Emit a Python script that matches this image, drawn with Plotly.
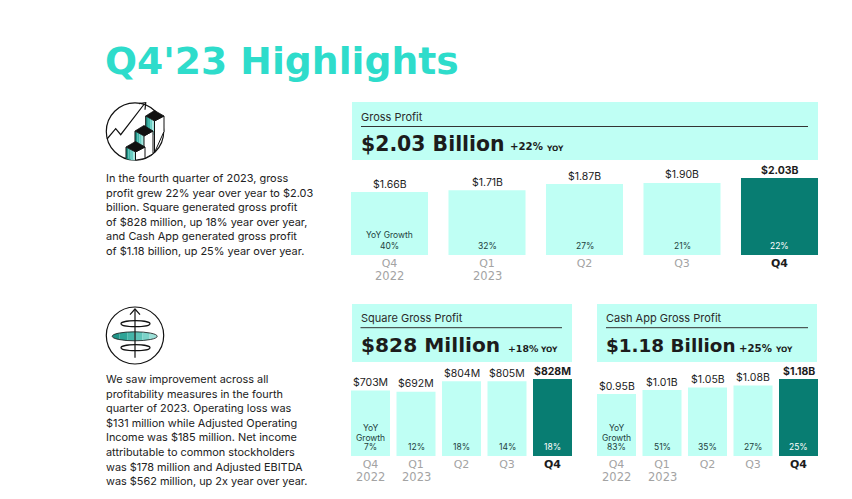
import math
import plotly.graph_objects as go

W, H = 852, 499
BODY = "Inter"
WIDE = "DejaVu Sans"
MINT = "#BFFFF4"
TEAL = "#087D72"
DARK = "#1C1C1C"
GREY = "#A3A3A3"

categories = ["Q4 2022", "Q1 2023", "Q2 2023", "Q3 2023", "Q4 2023"]
tick_labels = ["Q4", "Q1", "Q2", "Q3", "<b><span style='color:#1C1C1C'>Q4</span></b>"]
year_labels = ["2022", "2023", "", "", ""]

gross_profit = [1.66, 1.71, 1.87, 1.90, 2.03]
gross_labels = ["$1.66B", "$1.71B", "$1.87B", "$1.90B", "<b>$2.03B</b>"]
gross_growth = ["YoY Growth<br>40%", "32%", "27%", "21%", "22%"]

square_profit = [703, 692, 804, 805, 828]
square_labels = ["$703M", "$692M", "$804M", "$805M", "<b>$828M</b>"]
square_growth = ["YoY<br>Growth<br>7%", "12%", "18%", "14%", "18%"]

cash_profit = [0.95, 1.01, 1.05, 1.08, 1.18]
cash_labels = ["$0.95B", "$1.01B", "$1.05B", "$1.08B", "<b>$1.18B</b>"]
cash_growth = ["YoY<br>Growth<br>83%", "51%", "35%", "27%", "25%"]

para_one = ["In the fourth quarter of 2023, gross",
            "profit grew 22% year over year to $2.03",
            "billion. Square generated gross profit",
            "of $828 million, up 18% year over year,",
            "and Cash App generated gross profit",
            "of $1.18 billion, up 25% year over year."]
para_two = ["We saw improvement across all",
            "profitability measures in the fourth",
            "quarter of 2023. Operating loss was",
            "$131 million while Adjusted Operating",
            "Income was $185 million. Net income",
            "attributable to common stockholders",
            "was $178 million and Adjusted EBITDA",
            "was $562 million, up 2x year over year."]


def fx(x):
    return x / W


def fy(y):
    return 1 - y / H


fig = go.Figure()
shapes, notes = [], []


def text(x, y, s, size, color=DARK, family=BODY, anchor="left"):
    notes.append(dict(xref="paper", yref="paper", x=fx(x), y=fy(y), text=s, showarrow=False,
                      xanchor=anchor, yanchor="middle", align=anchor,
                      font=dict(size=size, color=color, family=family),
                      borderpad=0, borderwidth=0))


def rect(x0, y0, x1, y1, fill):
    shapes.append(dict(type="rect", xref="paper", yref="paper", x0=fx(x0), x1=fx(x1),
                       y0=fy(y1), y1=fy(y0), fillcolor=fill, line_width=0, layer="below"))


def path(points, fill=None, stroke=None, width=1.2, close=False):
    d = "M" + " L".join(f"{fx(a):.5f} {fy(b):.5f}" for a, b in points) + (" Z" if close else "")
    shapes.append(dict(type="path", xref="paper", yref="paper", path=d,
                       fillcolor=fill or "rgba(0,0,0,0)",
                       line=dict(color=stroke or "rgba(0,0,0,0)", width=width if stroke else 0)))


def ellipse(cx, cy, rx, ry, fill=None, stroke=None, width=1.2):
    shapes.append(dict(type="circle", xref="paper", yref="paper", x0=fx(cx - rx), x1=fx(cx + rx),
                       y0=fy(cy + ry), y1=fy(cy - ry), fillcolor=fill or "rgba(0,0,0,0)",
                       line=dict(color=stroke or "rgba(0,0,0,0)", width=width if stroke else 0)))


def chart(idx, values, labels, growth, xdom, top, base, gap, ymax, inner_lh):
    ax = "" if idx == 1 else str(idx)
    colors = [MINT] * 4 + [TEAL]
    fig.add_trace(go.Bar(
        x=categories, y=values, width=1 - gap, cliponaxis=False,
        marker=dict(color=colors, line_width=0),
        xaxis="x" + ax, yaxis="y" + ax, showlegend=False, hoverinfo="skip"))
    fig.update_layout({
        "xaxis" + ax: dict(domain=[fx(xdom[0]), fx(xdom[1])], type="category", anchor="y" + ax,
                           categoryorder="array", categoryarray=categories,
                           tickvals=categories, ticktext=tick_labels, showgrid=False, zeroline=False,
                           showline=False, ticks="", ticklen=0,
                           tickfont=dict(size=11, color=GREY, family=WIDE)),
        "yaxis" + ax: dict(domain=[fy(base), fy(top)], range=[0, ymax], visible=False, anchor="x" + ax),
    })
    for i, (c, v, lab, g, yr) in enumerate(zip(categories, values, labels, growth, year_labels)):
        notes.append(dict(xref="x" + ax, yref="y" + ax, x=c, y=v, text=lab, showarrow=False,
                          yanchor="middle", yshift=8,
                          font=dict(size=10.5, color=DARK, family=BODY)))
        lines = g.split("<br>")
        for j, line in enumerate(reversed(lines)):
            notes.append(dict(xref="x" + ax, yref="y" + ax, x=c, y=0, text=line, showarrow=False,
                              yanchor="middle", yshift=9 + j * inner_lh,
                              font=dict(size=8.5, color="white" if i == 4 else "#223E3C", family=BODY)))
        if yr:
            notes.append(dict(xref="x" + ax, yref="y" + ax, x=c, y=0, text=yr, showarrow=False,
                              yanchor="middle", yshift=-20.5,
                              font=dict(size=11.5, color=GREY, family=WIDE)))


chart(1, gross_profit, gross_labels, gross_growth, (340.75, 828.25), 178, 255, 0.21, 2.03, 11)
chart(2, square_profit, square_labels, square_growth, (347.75, 575.25), 379, 456, 0.143, 828, 9.5)
chart(3, cash_profit, cash_labels, cash_growth, (593.75, 821.25), 379, 456, 0.143, 1.18, 9.5)

# Title
text(105, 61.5, "<b>Q4'23 Highlights</b>", 37.7, "#2EDCCB", WIDE)

# Paragraphs
for i, line in enumerate(para_one):
    text(105.5, 178 + i * 14.6, line, 10.95, "#222222")
for i, line in enumerate(para_two):
    text(105.5, 379 + i * 14.6, line, 10.9, "#222222")

# Panels
for (x0, x1, y0, y1, lx, ly, label, head, hsize, hy, pct, psize, px, yoy, yx, dy, dx1) in [
    (352, 818, 102, 160, 361, 117, "Gross Profit", "$2.03 Billion", 20.4, 144, "+22%", 10.2, 510, "YOY", 546, 126.5, 808),
    (352, 572, 304, 362, 360.5, 318, "Square Gross Profit", "$828 Million", 20.2, 345, "+18%", 9.4, 508, "YOY", 540, 327.7, 562),
    (597, 817, 304, 362, 606, 318, "Cash App Gross Profit", "$1.18 Billion", 18.4, 345, "+25%", 10.2, 739, "YOY", 775, 327.7, 808),
]:
    rect(x0, y0, x1, y1, MINT)
    path([(lx, dy), (dx1, dy)], stroke="#333333", width=1)
    text(lx, ly, label, 11, "#2B2B2B")
    text(lx, hy, f"<b>{head}</b>", hsize, DARK, WIDE)
    text(px, hy + 3, f"<b>{pct}</b>", psize, DARK, WIDE)
    text(yx, hy + 4, f"<b>{yoy}</b>", 7.4, DARK, WIDE)

# Icon one: rising stairs
ICX, ICY, IR = 135, 131.5, 28.7
ellipse(ICX, ICY, IR, IR, fill="white", stroke="#111111")
path([(107, 139), (115.7, 128.7), (120.7, 134.7), (144.3, 104)], stroke="#111111")
path([(139, 103.7), (145.7, 102.7), (145, 109.7)], stroke="#111111")


def rim(x):
    return ICY + math.sqrt(max(IR * IR - (x - ICX) ** 2, 0))


FACE_SHADES = ["#1F9387", "#3FB5A9", "#6ACFC4", "#A2E6DE"]
for (lx, ty, cx, rx, lb) in [(145.7, 116, 154.5, 164, 135), (135, 131, 144, 153, 151), (126, 147, 135.5, 145, None)]:
    n = len(FACE_SHADES)
    for k, col in enumerate(FACE_SHADES):
        a = lx + (cx - lx) * k / n
        b = lx + (cx - lx) * (k + 1) / n
        bot_a = lb if lb else rim(a)
        bot_b = lb if lb else rim(b)
        path([(a, ty + 5 * k / n), (b, ty + 5 * (k + 1) / n), (b, bot_b), (a, bot_a)], fill=col, close=True)
    path([(cx, ty + 5), (rx, ty), (rx, rim(rx)), (cx, rim(cx))], fill="white", stroke="#111111", width=1, close=True)
    path([(lx, ty), (lx, lb if lb else rim(lx))], stroke="#111111", width=1)
    path([(lx, ty), (cx, ty - 5.5), (rx, ty), (cx, ty + 5)], fill="#111111", stroke="#111111", width=0.8, close=True)

# Icon two: axis with discs
ellipse(135, 335.5, 28.7, 28.5, fill="white", stroke="#111111")
ellipse(135.5, 323.7, 14.5, 3, stroke="#111111")
ellipse(135.5, 347.7, 14.5, 3, stroke="#111111")
DISC_SHADES = ["#1F9387", "#2FA497", "#45B5A9", "#5FC4B9", "#7CD3C9", "#9CE0D8"]
DCX, DCY, DRX, DRY = 134.7, 336.3, 22.5, 4.5
for k, col in enumerate(DISC_SHADES):
    x0 = DCX - DRX + 2 * DRX * k / len(DISC_SHADES)
    x1 = DCX - DRX + 2 * DRX * (k + 1) / len(DISC_SHADES)
    steps = [x0 + (x1 - x0) * s / 6 for s in range(7)]
    half = [DRY * math.sqrt(max(1 - ((s - DCX) / DRX) ** 2, 0)) for s in steps]
    pts = [(s, DCY - h) for s, h in zip(steps, half)] + [(s, DCY + h) for s, h in zip(reversed(steps), reversed(half))]
    path(pts, fill=col, close=True)
ellipse(DCX, DCY, DRX, DRY, stroke="#111111", width=0.8)
path([(135, 309.5), (135, 357.7)], stroke="#111111")
path([(130, 314.7), (135, 309), (140, 314.7)], stroke="#111111")

fig.update_layout(width=W, height=H, margin=dict(l=0, r=0, t=0, b=0), autosize=False,
                  paper_bgcolor="white", plot_bgcolor="rgba(0,0,0,0)",
                  shapes=shapes, annotations=notes)
fig.write_html("out.html", config={"displayModeBar": False},
               post_script="document.body.style.margin='0';")
